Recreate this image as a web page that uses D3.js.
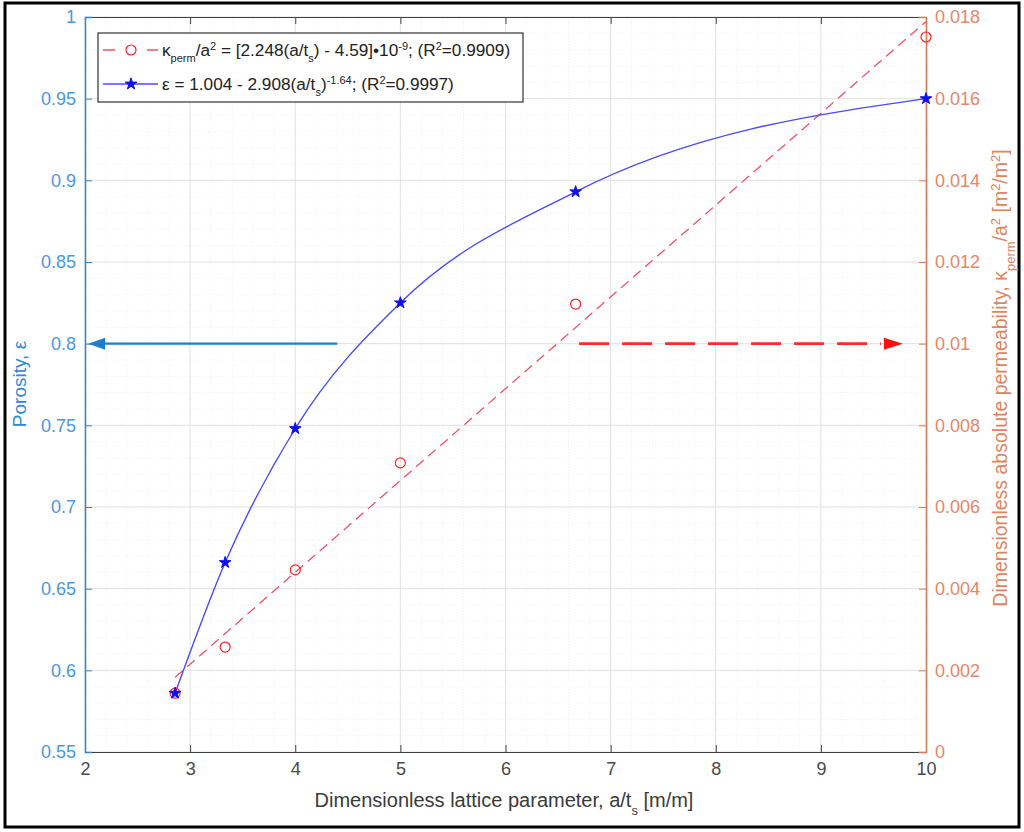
<!DOCTYPE html>
<html><head><meta charset="utf-8">
<script src="https://cdn.jsdelivr.net/npm/d3@7"></script>
<style>
body{margin:0;background:#fff;}
svg{font-family:"Liberation Sans",Arial,Helvetica,sans-serif;}
</style></head>
<body><svg id="c" width="1024" height="832"></svg>
<script>
// ---- data ----
const latticeX = [2.857, 3.333, 4, 5, 6.667, 10];
const porosity = [0.586, 0.666, 0.748, 0.825, 0.893, 0.950];
const permeability = [0.00144, 0.00257, 0.00446, 0.00708, 0.01097, 0.01751];
const permFitX = [2.857, 10];
const permFitY = [0.00183, 0.01789];
const xTicks = [2,3,4,5,6,7,8,9,10];
const leftTicks = [0.55,0.6,0.65,0.7,0.75,0.8,0.85,0.9,0.95,1];
const rightTicks = [0,0.002,0.004,0.006,0.008,0.01,0.012,0.014,0.016,0.018];
const blueArrowX = [4.4, 2.03];   // at porosity 0.8
const blueArrowY = 0.8;
const redArrowX = [6.7, 9.78];   // at permeability 0.01
const redArrowY = 0.01;

const L = 85, R = 926, T = 17, B = 752;
const svg = d3.select("#c");
const x = d3.scaleLinear().domain([2,10]).range([L,R]);
const yL = d3.scaleLinear().domain([0.55,1]).range([B,T]);
const yR = d3.scaleLinear().domain([0,0.018]).range([B,T]);

const blueAx = "#2f86d2", orAx = "#e07a55";

// outer frame
svg.append("rect").attr("x",5).attr("y",3).attr("width",1014).attr("height",824)
  .attr("fill","none").attr("stroke","#000").attr("stroke-width",3);

// minor grid
const gMinor = svg.append("g");
d3.range(2,10.001,0.2).forEach(v=>{
  gMinor.append("line").attr("x1",x(v)).attr("x2",x(v)).attr("y1",T).attr("y2",B)
   .attr("stroke","#f2f2f2").attr("stroke-width",1).attr("stroke-dasharray","1,2");
});
d3.range(0.55,1.0001,0.01).forEach(v=>{
  gMinor.append("line").attr("x1",L).attr("x2",R).attr("y1",yL(v)).attr("y2",yL(v))
   .attr("stroke","#f2f2f2").attr("stroke-width",1).attr("stroke-dasharray","1,2");
});
// major grid
const gGrid = svg.append("g");
xTicks.forEach(v=>{
  gGrid.append("line").attr("x1",x(v)).attr("x2",x(v)).attr("y1",T).attr("y2",B)
   .attr("stroke","#e2e2e2").attr("stroke-width",1);
});
leftTicks.forEach(v=>{
  gGrid.append("line").attr("x1",L).attr("x2",R).attr("y1",yL(v)).attr("y2",yL(v))
   .attr("stroke","#e2e2e2").attr("stroke-width",1);
});

// axes
const fs = 18;
const xAxB = d3.axisBottom(x).tickValues(xTicks).tickSize(-7).tickPadding(10).tickFormat(d3.format("d"));
const gxb = svg.append("g").attr("transform",`translate(0,${B})`).call(xAxB);
gxb.select(".domain").attr("stroke","#404040");
gxb.selectAll(".tick line").attr("stroke","#404040");
gxb.selectAll("text").attr("fill","#4a4a4a").style("font-size",fs+"px").attr("font-family",null);

const xAxT = d3.axisTop(x).tickValues(xTicks).tickSize(-7).tickFormat("");
const gxt = svg.append("g").attr("transform",`translate(0,${T})`).call(xAxT);
gxt.select(".domain").attr("stroke","#404040");
gxt.selectAll(".tick line").attr("stroke","#404040");

const yAxL = d3.axisLeft(yL).tickValues(leftTicks).tickSize(-7).tickPadding(9).tickFormat(d=>d3.format("")(+d.toFixed(2)));
const gyl = svg.append("g").attr("transform",`translate(${L},0)`).call(yAxL);
gyl.select(".domain").attr("stroke",blueAx).attr("stroke-width",1.5);
gyl.selectAll(".tick line").attr("stroke",blueAx);
gyl.selectAll("text").attr("fill","#4b98dc").style("font-size",fs+"px").attr("font-family",null);

const yAxR = d3.axisRight(yR).tickValues(rightTicks).tickSize(-7).tickPadding(9).tickFormat(d=>d3.format("")(+d.toFixed(3)));
const gyr = svg.append("g").attr("transform",`translate(${R},0)`).call(yAxR);
gyr.select(".domain").attr("stroke",orAx).attr("stroke-width",1.5);
gyr.selectAll(".tick line").attr("stroke",orAx);
gyr.selectAll("text").attr("fill","#e8866a").style("font-size",fs+"px").attr("font-family",null);

// axis labels
const xl = svg.append("text").attr("x",504).attr("y",807).attr("text-anchor","middle")
  .attr("fill","#3a3a3a").style("font-size","20px");
xl.append("tspan").text("Dimensionless lattice parameter, a/t");
xl.append("tspan").attr("baseline-shift","sub").style("font-size","13px").text("s");
xl.append("tspan").text(" [m/m]");

svg.append("text").attr("transform",`translate(26,384) rotate(-90)`).attr("text-anchor","middle")
  .attr("fill",blueAx).style("font-size","19px").text("Porosity, ε");

const rl = svg.append("text").attr("transform",`translate(1007,378) rotate(-90)`).attr("text-anchor","middle")
  .attr("fill","#e0845f").style("font-size","19.5px");
rl.append("tspan").text("Dimensionless absolute permeability, κ");
rl.append("tspan").attr("baseline-shift","sub").style("font-size","13px").text("perm");
rl.append("tspan").text("/a");
rl.append("tspan").attr("baseline-shift","super").style("font-size","13px").text("2");
rl.append("tspan").text(" [m");
rl.append("tspan").attr("baseline-shift","super").style("font-size","13px").text("2");
rl.append("tspan").text("/m");
rl.append("tspan").attr("baseline-shift","super").style("font-size","13px").text("2");
rl.append("tspan").text("]");

// permeability fit line
svg.append("path").datum(permFitX.map((v,i)=>[v,permFitY[i]]))
  .attr("d",d3.line().x(d=>x(d[0])).y(d=>yR(d[1])))
  .attr("fill","none").attr("stroke","#f0506a").attr("stroke-width",1.3).attr("stroke-dasharray","10,6");

// porosity curve
svg.append("path").datum(latticeX.map((v,i)=>[v,porosity[i]]))
  .attr("d",d3.line().x(d=>x(d[0])).y(d=>yL(d[1])).curve(d3.curveMonotoneX))
  .attr("fill","none").attr("stroke","#4a4aff").attr("stroke-width",1.4);

// permeability circles
svg.selectAll(".pc").data(latticeX).enter().append("circle")
  .attr("cx",d=>x(d)).attr("cy",(d,i)=>yR(permeability[i])).attr("r",5)
  .attr("fill","none").attr("stroke","#ff2020").attr("stroke-width",1.2);

// porosity stars
svg.selectAll(".ps").data(latticeX).enter().append("path")
  .attr("transform",(d,i)=>`translate(${x(d)},${yL(porosity[i])})`)
  .attr("d",d3.symbol().type(d3.symbolStar).size(42))
  .attr("fill","#1010ee").attr("stroke","#1010ee").attr("stroke-width",1);

// arrows
const ba = svg.append("g");
ba.append("line").attr("x1",x(blueArrowX[0])).attr("x2",x(blueArrowX[1])+14)
  .attr("y1",yL(blueArrowY)).attr("y2",yL(blueArrowY)).attr("stroke","#1f7ed0").attr("stroke-width",2.2);
ba.append("path").attr("d",`M${x(blueArrowX[1])},${yL(blueArrowY)} l17,-6 l0,12 z`).attr("fill","#1f7ed0");

const ra = svg.append("g");
ra.append("line").attr("x1",x(redArrowX[0])).attr("x2",x(redArrowX[1])-22)
  .attr("y1",yR(redArrowY)).attr("y2",yR(redArrowY)).attr("stroke","#ff2a2a").attr("stroke-width",2.6)
  .attr("stroke-dasharray","30,13");
ra.append("path").attr("d",`M${x(redArrowX[1])},${yR(redArrowY)} l-19,-6 l0,12 z`).attr("fill","#ff1010");

// legend
const lg = svg.append("g");
lg.append("rect").attr("x",98).attr("y",33).attr("width",425).attr("height",69)
  .attr("fill","#fff").attr("stroke","#333").attr("stroke-width",1.2);
const y1 = 50, y2 = 84;
lg.append("line").attr("x1",103).attr("x2",115).attr("y1",y1).attr("y2",y1).attr("stroke","#f0506a").attr("stroke-width",1.5);
lg.append("line").attr("x1",147).attr("x2",158).attr("y1",y1).attr("y2",y1).attr("stroke","#f0506a").attr("stroke-width",1.5);
lg.append("circle").attr("cx",131).attr("cy",y1).attr("r",5).attr("fill","#fff").attr("stroke","#ff2020").attr("stroke-width",1.2);
lg.append("line").attr("x1",103).attr("x2",158).attr("y1",y2).attr("y2",y2).attr("stroke","#4a4aff").attr("stroke-width",1.4);
lg.append("path").attr("transform",`translate(131,${y2})`).attr("d",d3.symbol().type(d3.symbolStar).size(42)).attr("fill","#1010ee").attr("stroke","#1010ee");

const sub = (t,s)=>t.append("tspan").attr("baseline-shift","sub").style("font-size","11px").text(s);
const sup = (t,s)=>t.append("tspan").attr("baseline-shift","super").style("font-size","11px").text(s);
const t1 = lg.append("text").attr("x",162).attr("y",y1+6).attr("fill","#222").style("font-size","17.2px");
t1.append("tspan").text("κ"); sub(t1,"perm"); t1.append("tspan").text("/a"); sup(t1,"2");
t1.append("tspan").text(" = [2.248(a/t"); sub(t1,"s"); t1.append("tspan").text(") - 4.59]•10"); sup(t1,"-9");
t1.append("tspan").text("; (R"); sup(t1,"2"); t1.append("tspan").text("=0.9909)");
const t2 = lg.append("text").attr("x",162).attr("y",y2+6).attr("fill","#222").style("font-size","17.2px");
t2.append("tspan").text("ε = 1.004 - 2.908(a/t"); sub(t2,"s"); t2.append("tspan").text(")"); sup(t2,"-1.64");
t2.append("tspan").text("; (R"); sup(t2,"2"); t2.append("tspan").text("=0.9997)");
</script></body></html>
